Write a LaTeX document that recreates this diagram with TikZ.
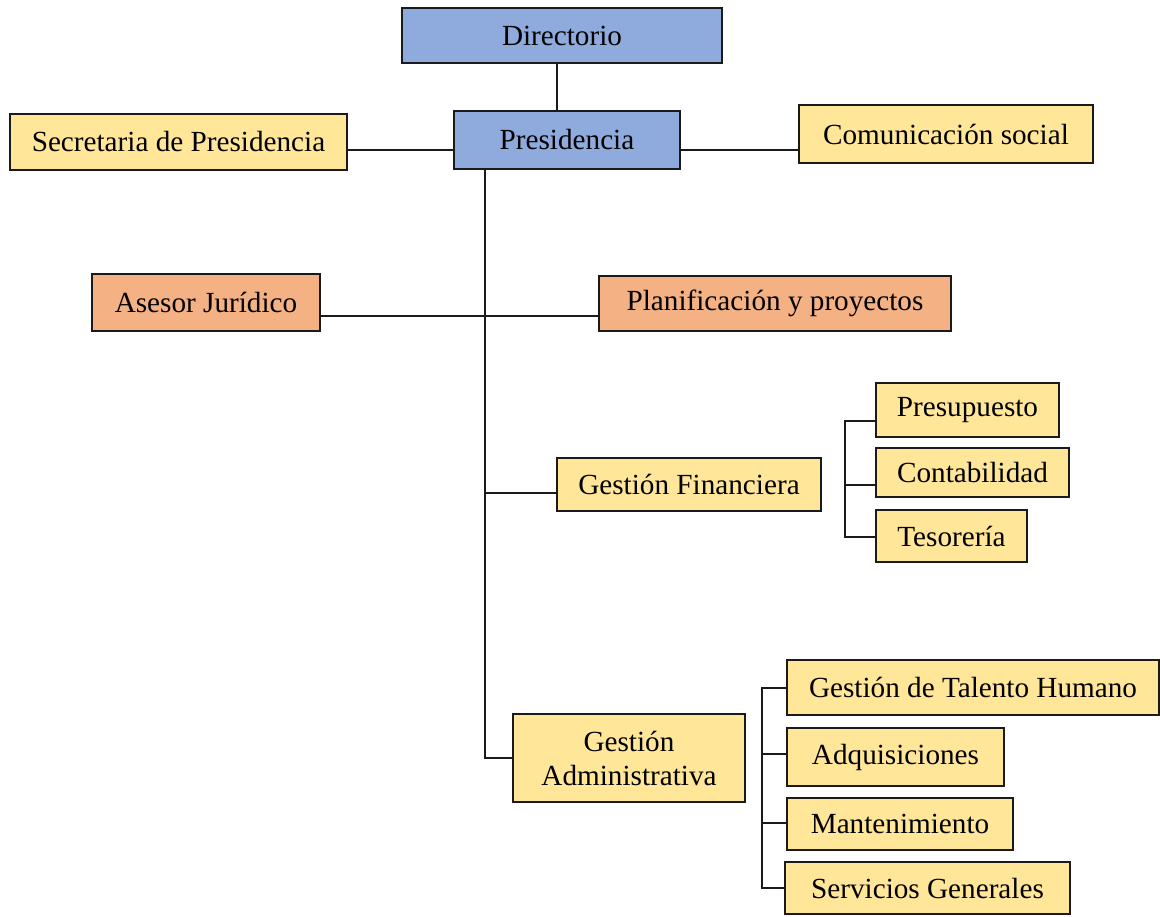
\documentclass[tikz,border=0pt]{standalone}
\usepackage{fontspec}
\setmainfont{Liberation Serif}
\definecolor{dirblue}{HTML}{8FAADC}
\definecolor{unityel}{HTML}{FFE699}
\definecolor{asesor}{HTML}{F4B183}
\definecolor{edge}{HTML}{1A1A1A}

\begin{document}
\begin{tikzpicture}[x=0.5pt,y=-0.5pt,font=\fontsize{14.6pt}{17pt}\selectfont,
  box/.style={draw=edge,line width=.65pt,inner sep=0pt,align=center},
  conn/.style={draw=edge,line width=.65pt}]
 \useasboundingbox (0,0) rectangle (1160,916);
 % upper level
 \node[box,fill=dirblue,minimum width=160pt,minimum height=27.5pt] (dir) at (562,35.5) {Directorio};
 \node[box,fill=dirblue,minimum width=113pt,minimum height=29pt] (pres) at (567,140) {Presidencia};
 \node[box,fill=unityel,minimum width=168.5pt,minimum height=28pt] (secr) at (178.5,142) {Secretaria de Presidencia};
 \node[box,fill=unityel,minimum width=147pt,minimum height=29pt] (comu) at (946,134) {Comunicación social};
 \node[box,fill=asesor,minimum width=114pt,minimum height=28.5pt] (ases) at (206,302.5) {Asesor Jurídico};
 \node[box,fill=asesor,minimum width=176pt,minimum height=27.5pt] (plan) at (775,303.5) {Planificación y proyectos};
 % gestion financiera
 \node[box,fill=unityel,minimum width=132pt,minimum height=26.5pt] (fin) at (689,484.5) {Gestión Financiera};
 \node[box,fill=unityel,minimum width=91.5pt,minimum height=27pt] (presu) at (967.5,410) {Presupuesto};
 \node[box,fill=unityel,minimum width=96.5pt,minimum height=24.5pt] (conta) at (972.5,472.5) {Contabilidad};
 \node[box,fill=unityel,minimum width=75.5pt,minimum height=26pt] (teso) at (951.5,536) {Tesorería};
 % gestion administrativa
 \node[box,fill=unityel,minimum width=116pt,minimum height=44pt] (admin) at (629,758) {Gestión\\Administrativa};
 \node[box,fill=unityel,minimum width=186pt,minimum height=27.5pt] (tale) at (973,687.5) {Gestión de Talento Humano};
 \node[box,fill=unityel,minimum width=108.5pt,minimum height=29pt] (adqu) at (895.5,757) {Adquisiciones};
 \node[box,fill=unityel,minimum width=113pt,minimum height=26pt] (mant) at (900,824) {Mantenimiento};
 \node[box,fill=unityel,minimum width=142.5pt,minimum height=26pt] (serv) at (927.5,888) {Servicios Generales};
 % junctions
 \coordinate (djoin) at (557,0);
 \coordinate (pjoin) at (0,150);
 \coordinate (trunk) at (485,758);
 \coordinate (ajoin) at (485,316);
 \coordinate (fjoin) at (485,493);
 \coordinate (fbtop) at (845,421);
 \coordinate (fbmid) at (845,485);
 \coordinate (fbbot) at (845,537);
 \coordinate (abtop) at (762,688);
 \coordinate (abadq) at (762,754);
 \coordinate (abman) at (762,823);
 \coordinate (abbot) at (762,888);
 % connectors
 \draw[conn] (dir.south -| djoin) -- (pres.north -| djoin);
 \draw[conn] (secr.east |- pjoin) -- (pres.west |- pjoin);
 \draw[conn] (pres.east |- pjoin) -- (comu.west |- pjoin);
 \draw[conn] (pres.south -| trunk) -- (trunk) -- (admin.west);
 \draw[conn] (ases.east |- ajoin) -- (plan.west |- ajoin);
 \draw[conn] (fjoin) -- (fin.west |- fjoin);
 \draw[conn] (presu.west |- fbtop) -| (fbbot) -- (teso.west |- fbbot);
 \draw[conn] (fbmid) -- (conta.west |- fbmid);
 \draw[conn] (tale.west |- abtop) -| (abbot) -- (serv.west |- abbot);
 \draw[conn] (abadq) -- (adqu.west |- abadq);
 \draw[conn] (abman) -- (mant.west |- abman);
\end{tikzpicture}
\end{document}
